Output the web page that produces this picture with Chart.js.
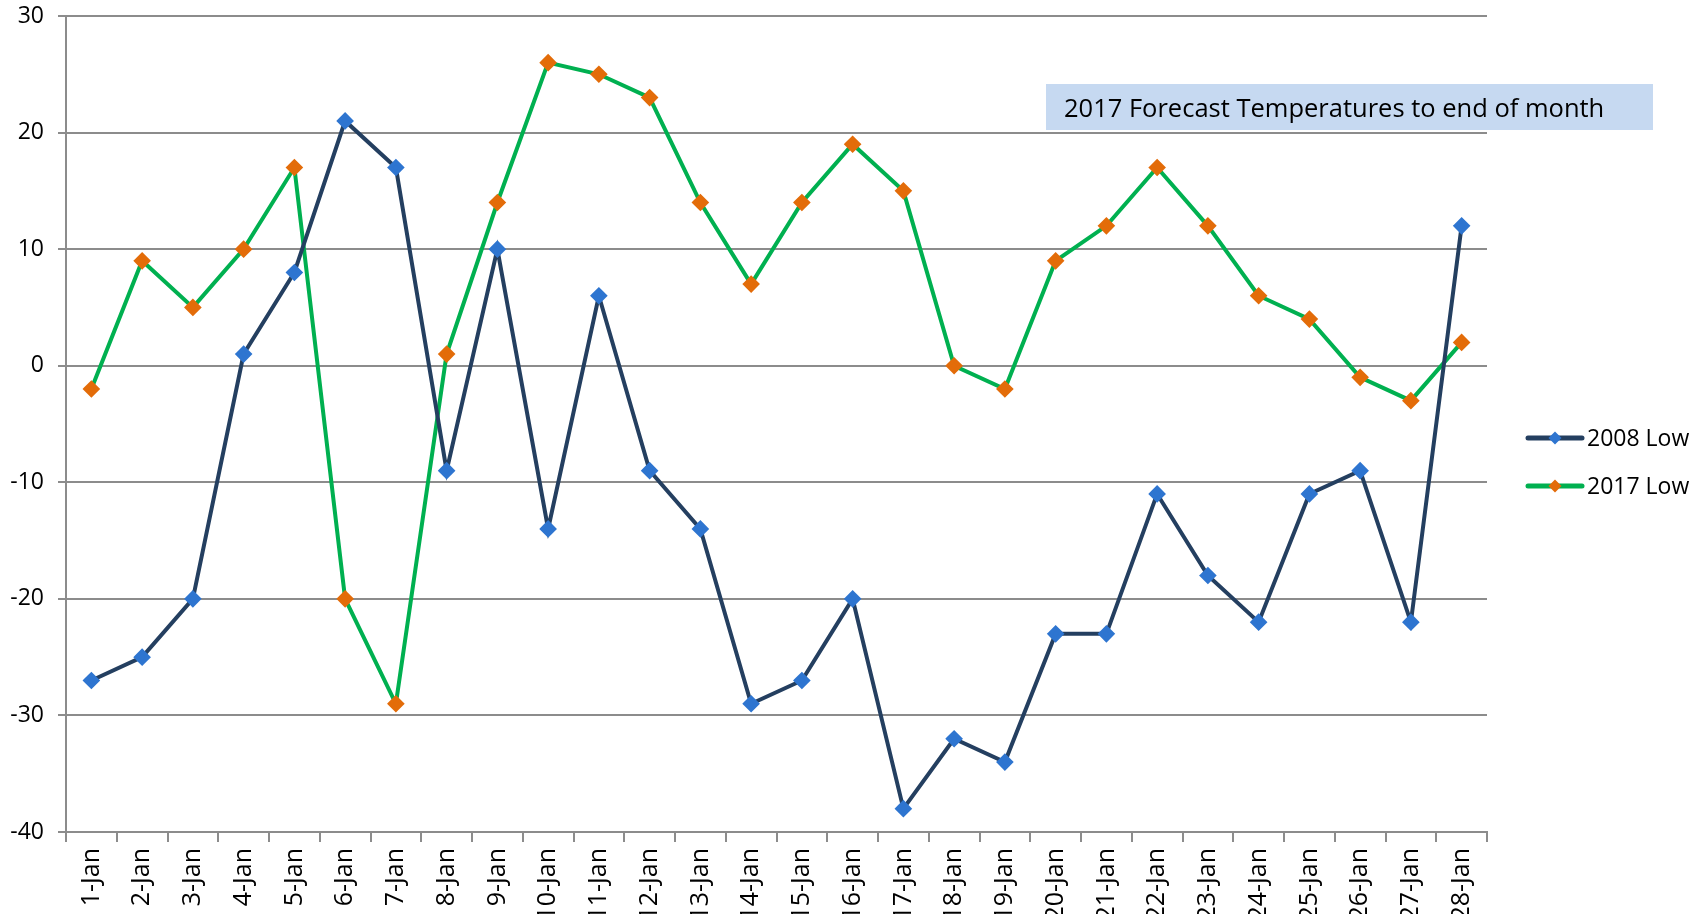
<!DOCTYPE html>
<html>
<head>
<meta charset="utf-8">
<script src="https://cdn.jsdelivr.net/npm/chart.js@4.4.1/dist/chart.umd.min.js"></script>
<style>
  html, body { margin: 0; padding: 0; background: #fff; overflow: hidden; }
  #wrap { width: 1705px; height: 914px; }
</style>
</head>
<body>
<div id="wrap"><canvas id="temps"></canvas></div>
<script>
// Data - January lows
const days = ['1-Jan', '2-Jan', '3-Jan', '4-Jan', '5-Jan', '6-Jan', '7-Jan', '8-Jan', '9-Jan', '10-Jan',
    '11-Jan', '12-Jan', '13-Jan', '14-Jan', '15-Jan', '16-Jan', '17-Jan', '18-Jan', '19-Jan', '20-Jan',
    '21-Jan', '22-Jan', '23-Jan', '24-Jan', '25-Jan', '26-Jan', '27-Jan', '28-Jan'];
const low2008 = [-27, -25, -20, 1, 8, 21, 17, -9, 10, -14, 6, -9, -14, -29, -27, -20, -38, -32, -34, -23,
    -23, -11, -18, -22, -11, -9, -22, 12];
const low2017 = [-2, 9, 5, 10, 17, -20, -29, 1, 14, 26, 25, 23, 14, 7, 14, 19, 15, 0, -2, 9,
    12, 17, 12, 6, 4, -1, -3, 2];
const yMin = -40, yMax = 30, yStep = 10;
const noteText = '2017 Forecast Temperatures to end of month';

const FONT = '"Open Sans", sans-serif';
const GRID = '#8c8c8c';

// Legend drawn to the right, line with diamond like Excel
const sideLegend = {
    id: 'sideLegend',
    afterDraw(chart) {
        const ctx = chart.ctx;
        ctx.save();
        ctx.font = '23px ' + FONT;
        ctx.textBaseline = 'middle';
        chart.data.datasets.forEach(function (ds, i) {
            const y = 438 + i * 48;
            const x0 = 1528, x1 = 1582;
            ctx.strokeStyle = ds.borderColor;
            ctx.lineWidth = 5;
            ctx.lineCap = 'round';
            ctx.beginPath();
            ctx.moveTo(x0, y);
            ctx.lineTo(x1, y);
            ctx.stroke();
            const cx = (x0 + x1) / 2, r = 6.5;
            ctx.fillStyle = ds.pointBackgroundColor;
            ctx.beginPath();
            ctx.moveTo(cx, y - r);
            ctx.lineTo(cx + r, y);
            ctx.lineTo(cx, y + r);
            ctx.lineTo(cx - r, y);
            ctx.closePath();
            ctx.fill();
            ctx.fillStyle = '#000';
            ctx.fillText(ds.label, 1587, y + 1);
        });
        ctx.restore();
    }
};

// Text box over the plot
const noteBox = {
    id: 'noteBox',
    afterDatasetsDraw(chart) {
        const ctx = chart.ctx;
        ctx.save();
        ctx.fillStyle = '#c6d9f1';
        ctx.fillRect(1046, 84, 607, 46);
        ctx.fillStyle = '#000';
        ctx.font = '25.5px ' + FONT;
        ctx.textBaseline = 'middle';
        ctx.fillText(noteText, 1064, 110);
        ctx.restore();
    }
};

function renderiza_temperaturas() {
    const ctx = document.getElementById('temps').getContext('2d');
    const myChart = new Chart(ctx, {
        type: 'line',
        data: {
            labels: days,
            datasets: [{
                label: '2008 Low',
                data: low2008,
                borderColor: '#243f60',
                backgroundColor: '#243f60',
                pointBackgroundColor: '#2e75d0',
                pointBorderColor: '#2e75d0',
                borderWidth: 4,
                pointStyle: 'rectRot',
                pointRadius: 6,
                tension: 0
            }, {
                label: '2017 Low',
                data: low2017,
                borderColor: '#00b050',
                backgroundColor: '#00b050',
                pointBackgroundColor: '#e36c09',
                pointBorderColor: '#e36c09',
                borderWidth: 4,
                pointStyle: 'rectRot',
                pointRadius: 6,
                tension: 0
            }]
        },
        options: {
            responsive: true,
            maintainAspectRatio: false,
            animation: false,
            layout: { padding: { left: 0, right: 218, top: 16, bottom: 0 } },
            plugins: {
                legend: { display: false },
                tooltip: { enabled: false }
            },
            scales: {
                x: {
                    offset: true,
                    grid: {
                        offset: true,
                        drawOnChartArea: false,
                        color: GRID,
                        lineWidth: 2,
                        tickLength: 10
                    },
                    border: { color: GRID, width: 2 },
                    ticks: {
                        autoSkip: false,
                        maxRotation: 90,
                        minRotation: 90,
                        color: '#000',
                        padding: 6,
                        font: { family: FONT, size: 25 }
                    },
                    afterFit(scale) { scale.height = 82; }
                },
                y: {
                    min: yMin,
                    max: yMax,
                    ticks: {
                        stepSize: yStep,
                        color: '#000',
                        padding: 14,
                        font: { family: FONT, size: 23 }
                    },
                    grid: {
                        color: GRID,
                        lineWidth: 2,
                        tickLength: 8
                    },
                    border: { color: GRID, width: 2 },
                    afterFit(scale) {
                        scale.width = 66;
                        scale.paddingTop = 0;
                    }
                }
            }
        },
        plugins: [noteBox, sideLegend]
    });
}
renderiza_temperaturas();
</script>
</body>
</html>
